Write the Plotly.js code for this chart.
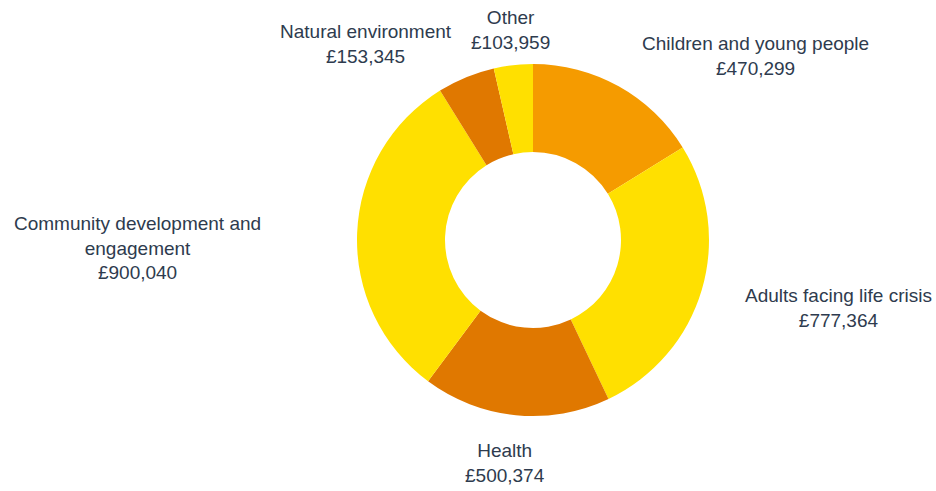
<!DOCTYPE html>
<html>
<head>
<meta charset="utf-8">
<script src="https://cdn.plot.ly/plotly-3.0.1.min.js"></script>
<style>html,body{margin:0;padding:0;background:#fff;}#chart{width:936px;height:491px;}</style>
</head>
<body>
<div id="chart"></div>
<script>
// Data
const categories = ["Children and young people", "Adults facing life crisis", "Health", "Community development and engagement", "Natural environment", "Other"];
const displayLabels = ["Children and young people", "Adults facing life crisis", "Health", "Community development and<br>engagement", "Natural environment", "Other"];
const amounts = [470299, 777364, 500374, 900040, 153345, 103959];

// Styles
const sliceColors = ["#F59B00", "#FFE000", "#E07800", "#FFE000", "#E07800", "#FFE000"];
// label anchor positions in pixels (center x, center y of the text block)
const labelPos = [[755, 56], [838, 308], [505, 463], [137, 248], [366, 44], [511, 30]];

const W = 936, H = 491;
const cx = 533, cy = 240, R = 176;

const fmt = v => "£" + v.toLocaleString("en-GB");

const annotations = categories.map((c, i) => ({
  text: displayLabels[i] + "<br>" + fmt(amounts[i]),
  xref: "paper", yref: "paper",
  x: labelPos[i][0] / W, y: 1 - labelPos[i][1] / H,
  xanchor: "center", yanchor: "middle",
  align: "center", showarrow: false,
  font: {family: "Liberation Sans, Arial, sans-serif", size: 19, color: "#2E3B4E"}
}));

const trace = {
  type: "pie",
  labels: categories,
  values: amounts,
  sort: false,
  direction: "clockwise",
  rotation: 0,
  hole: 0.5,
  textinfo: "none",
  hoverinfo: "label+value",
  marker: {colors: sliceColors, line: {width: 0}},
  domain: {x: [(cx - R) / W, (cx + R) / W], y: [(H - cy - R) / H, (H - cy + R) / H]},
  showlegend: false
};

const layout = {
  width: W, height: H,
  margin: {l: 0, r: 0, t: 0, b: 0},
  paper_bgcolor: "#ffffff",
  plot_bgcolor: "#ffffff",
  showlegend: false,
  annotations: annotations
};

Plotly.newPlot("chart", [trace], layout, {displayModeBar: false, staticPlot: true});
</script>
</body>
</html>
